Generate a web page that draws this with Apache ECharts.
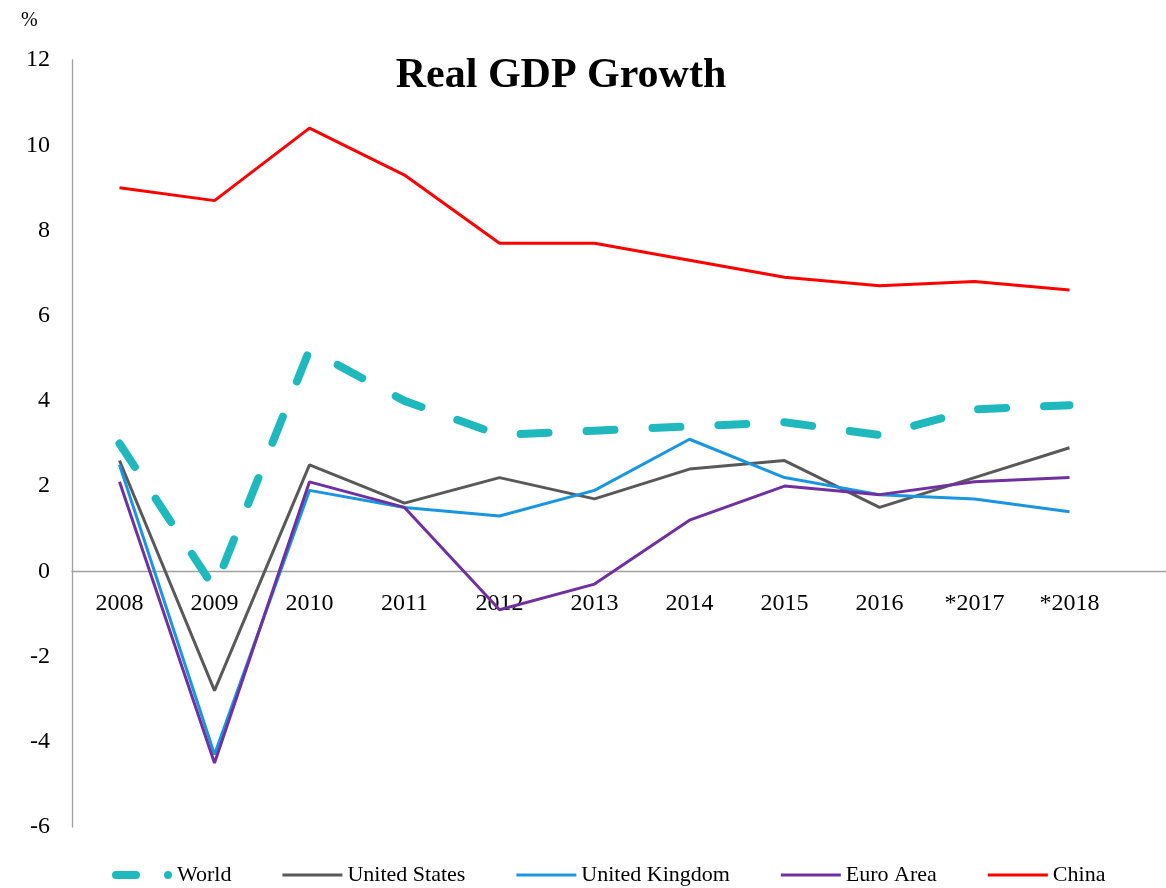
<!DOCTYPE html>
<html>
<head>
<meta charset="utf-8">
<script src="https://cdn.jsdelivr.net/npm/echarts@6/dist/echarts.min.js"></script>
<style>
html,body{margin:0;padding:0;background:#fff;}
#chart{width:1166px;height:888px;}
</style>
</head>
<body>
<div id="chart"></div>
<script>
var years = ['2008','2009','2010','2011','2012','2013','2014','2015','2016','*2017','*2018'];
var world = [3.0, -0.4, 5.2, 4.0, 3.2, 3.3, 3.4, 3.5, 3.2, 3.8, 3.9];
var unitedStates = [2.6, -2.8, 2.5, 1.6, 2.2, 1.7, 2.4, 2.6, 1.5, 2.2, 2.9];
var unitedKingdom = [2.5, -4.3, 1.9, 1.5, 1.3, 1.9, 3.1, 2.2, 1.8, 1.7, 1.4];
var euroArea = [2.1, -4.5, 2.1, 1.5, -0.9, -0.3, 1.2, 2.0, 1.8, 2.1, 2.2];
var china = [9.0, 8.7, 10.4, 9.3, 7.7, 7.7, 7.3, 6.9, 6.7, 6.8, 6.6];
var yMin = -6, yMax = 12, yStep = 2;

var font = '"Liberation Serif", "DejaVu Serif", serif';
var chart = echarts.init(document.getElementById('chart'), null, {renderer: 'canvas'});

var gridTop = 60, gridHeight = 767;
var zeroOffset = gridHeight * (0 - yMin) / (yMax - yMin);

function line(name, data, color, width, extra) {
  return {
    name: name, type: 'line', data: data, symbol: 'none', smooth: false,
    lineStyle: Object.assign({color: color, width: width}, extra || {}),
    itemStyle: {color: color},
    emphasis: {disabled: true}
  };
}

// icon box is 60 x 8; thin line centred vertically, with invisible corner points
var lineIcon = 'path://M0,0 L0.01,0 M0,2.5 H60 V5.5 H0 Z M60,8 L59.99,8';
var worldIcon = 'path://M4,0 H24 A4,4 0 0 1 24,8 H4 A4,4 0 0 1 4,0 Z M56,0 A4,4 0 0 1 56,8 A4,4 0 0 1 56,0 Z M60,8 L59.99,8';

chart.setOption({
  animation: false,
  backgroundColor: '#ffffff',
  title: {
    text: 'Real GDP Growth',
    left: 556, top: 50, textAlign: 'center',
    textStyle: {fontFamily: font, fontSize: 42, fontWeight: 'bold', color: '#000'}
  },
  graphic: [{
    type: 'text', left: 21, top: 11,
    style: {text: '%', font: '20px ' + font, fill: '#000'}
  }],
  legend: {
    bottom: -3, left: 107,
    itemGap: 51, itemWidth: 60, itemHeight: 8,
    textStyle: {fontFamily: font, fontSize: 22, color: '#000'},
    data: [
      {name: 'World', icon: worldIcon},
      {name: 'United States', icon: lineIcon},
      {name: 'United Kingdom', icon: lineIcon},
      {name: 'Euro Area', icon: lineIcon},
      {name: 'China', icon: lineIcon}
    ]
  },
  grid: {left: 72, top: gridTop, width: 1140, height: gridHeight, containLabel: false, outerBoundsMode: 'none'},
  xAxis: {
    type: 'category', data: years, boundaryGap: true, max: 11,
    position: 'bottom', offset: -zeroOffset,
    axisLine: {onZero: false, lineStyle: {color: '#a0a0a0', width: 1.3}},
    axisTick: {show: false},
    axisLabel: {fontFamily: font, fontSize: 24, color: '#000', margin: 20}
  },
  yAxis: {
    type: 'value', min: yMin, max: yMax, interval: yStep,
    splitLine: {show: false},
    axisLine: {show: true, lineStyle: {color: '#a0a0a0', width: 1.3}},
    axisTick: {show: false},
    axisLabel: {fontFamily: font, fontSize: 24, color: '#000', margin: 22}
  },
  series: [
    line('World', world, '#1fb9bd', 8, {type: [28, 38], cap: 'round'}),
    line('United States', unitedStates, '#595959', 3),
    line('United Kingdom', unitedKingdom, '#1a96e0', 3),
    line('Euro Area', euroArea, '#7030a0', 3),
    line('China', china, '#ff0000', 3)
  ]
});
</script>
</body>
</html>
